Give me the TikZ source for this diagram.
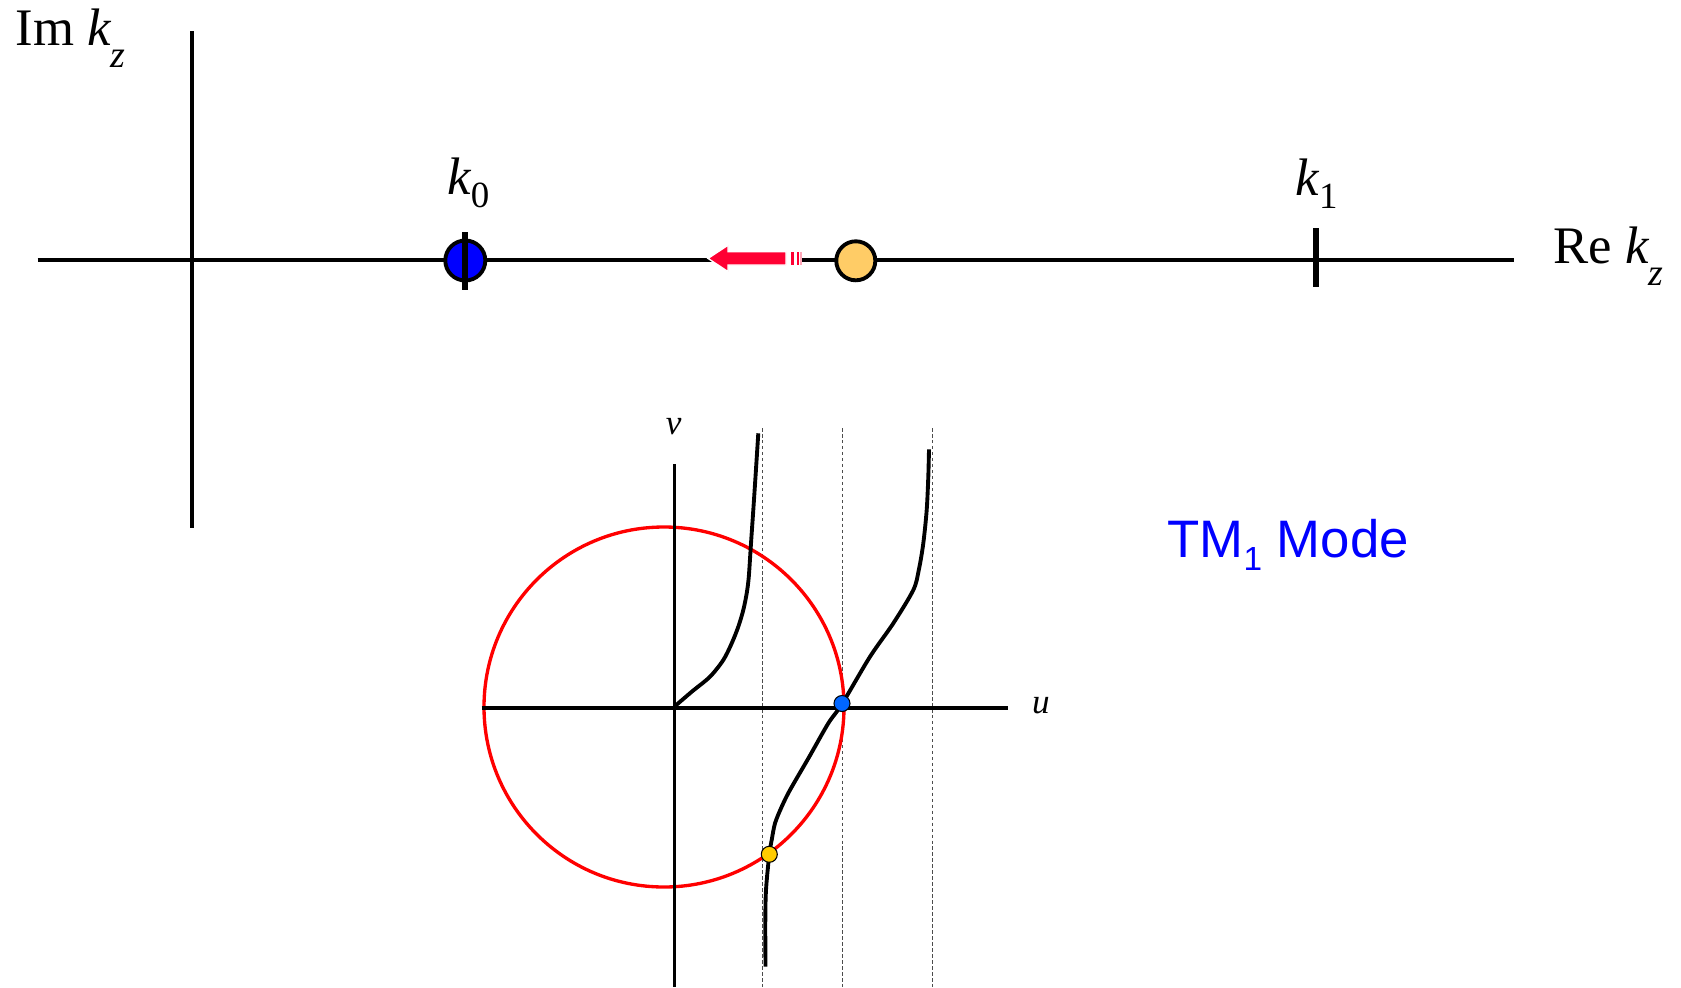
\documentclass[tikz,border=0pt]{standalone}
\usepackage{fontspec}
\setmainfont{Liberation Serif}
\newfontfamily\modefont{Liberation Sans}
\usetikzlibrary{arrows.meta,positioning,calc}
\definecolor{movered}{RGB}{255,0,51}
\definecolor{oldyellow}{RGB}{255,204,102}
\definecolor{solblue}{RGB}{0,102,255}
\definecolor{solyellow}{RGB}{255,204,0}
\newcommand\zsub[1]{\raisebox{-0.42em}{\fontsize{10.8}{12}\selectfont\itshape #1}}
\newcommand\nsub[1]{\raisebox{-0.25em}{\fontsize{10.5}{12}\selectfont #1}}
\newcommand\msub[1]{\raisebox{-0.25em}{\fontsize{9.5}{11}\selectfont #1}}
\tikzset{
  axis/.style={line width=0.9pt, black},
  kmark/.style={line width=1.7pt, black},
  lab/.style={inner sep=0pt, anchor=base west, font=\fontsize{15}{18}\selectfont},
  uvlab/.style={inner sep=0pt, font=\fontsize{10}{12}\selectfont\itshape},
  asym/.style={line width=0.3pt, dash pattern=on 1pt off 0.7pt, black!70},
  branch/.style={line width=1.1pt, black, line join=round},
  pole/.style={circle, draw=black, line width=1.1pt, inner sep=0pt, minimum size=3.9mm},
  root/.style={circle, draw=black, line width=0.3pt, inner sep=0pt, minimum size=1.6mm}
}

\begin{document}
\begin{tikzpicture}[x=0.01cm, y=-0.01cm]
  \useasboundingbox (0,0) rectangle (1681,987);

  % complex k_z plane
  \coordinate (reL) at (37.5,260);
  \coordinate (reR) at (1514,260);
  \coordinate (imT) at (192,31);
  \coordinate (imB) at (192,527.5);
  \draw[axis] (reL) -- (reR);
  \draw[axis] (imT) -- (imB);
  \node[lab] (imlab) at (15,45) {Im {\itshape k}\zsub{z}};
  \node[lab] (relab) at (1553,263) {Re {\itshape k}\zsub{z}};

  \node[pole, fill=blue, minimum size=4mm] (kzero) at (465.3,260.5) {};
  \draw[kmark] ($(kzero)+(0,-28.5)$) -- ($(kzero)+(0,29.5)$);
  \node[lab] (kzerolab) at (446.7,194) {{\itshape k}\nsub{0}};

  \coordinate (kone) at (1316,260);
  \draw[kmark] ($(kone)+(0,-32)$) -- ($(kone)+(0,27)$);
  \node[lab] (konelab) at (1295,195) {{\itshape k}\nsub{1}};

  % moving root
  \fill[white] (786,251.7) rectangle (802,265);
  \filldraw[fill=movered, draw=white, line width=0.4pt]
    (708,258.4) -- (728,245.2) -- (728,251.7) -- (786,251.7)
    -- (786,265) -- (728,265) -- (728,271.6) -- cycle;
  \fill[movered] (791,251.7) rectangle (794.3,265);
  \fill[movered] (797.3,251.7) rectangle (799.3,265);
  \fill[movered!35] (800.3,251.7) rectangle (802,265);
  \node[pole, fill=oldyellow] (kroot) at (855.8,260.8) {};

  % graphical solution in the (u,v) plane
  \coordinate (uL) at (481.7,708);
  \coordinate (uR) at (1008.3,708);
  \coordinate (vT) at (674.3,464);
  \coordinate (vB) at (674.3,987);
  \foreach \xa in {762.5,842.7,932.7}
    \draw[asym] (\xa,428) -- (\xa,987);
  \draw[red, line width=0.95pt] (664,707) circle[radius=180];
  \draw[axis] (uL) -- (uR);
  \draw[axis] (vT) -- (vB);
  \node[uvlab] (vlab) at (673.7,426.5) {v};
  \node[uvlab] (ulab) at (1041,706) {u};

  \draw[branch] plot[smooth, tension=0.5] coordinates {
    (674.3,706.7) (692,691.5) (710,676.7) (723.3,660) (731.7,643.3)
    (738.3,626.7) (743.3,610) (746.7,593.3) (748.8,576.7) (751,543.3)
    (753.3,510) (755.5,476.7) (758.3,433.3)};
  \draw[branch] plot[smooth, tension=0.5] coordinates {
    (765.5,966.7) (765.3,923) (766,890) (769.3,854.3) (771.7,840)
    (775,823.3) (781.7,806.7) (790,790) (809.3,756.7) (828.3,723.3)
    (842,704) (870,656.7) (893.3,623.3) (913.3,590) (918.8,570)
    (923.3,543.3) (926.7,510) (928.3,476.7) (929,449.3)};

  \node[root, fill=solblue] (bluesol) at (842,703.5) {};
  \node[root, fill=solyellow] (yellowsol) at (769.3,854.3) {};

  \node[lab, text=blue, font=\fontsize{15}{18}\selectfont\modefont] (mode) at (1166.7,557) {TM\msub{1} Mode};
\end{tikzpicture}
\end{document}
